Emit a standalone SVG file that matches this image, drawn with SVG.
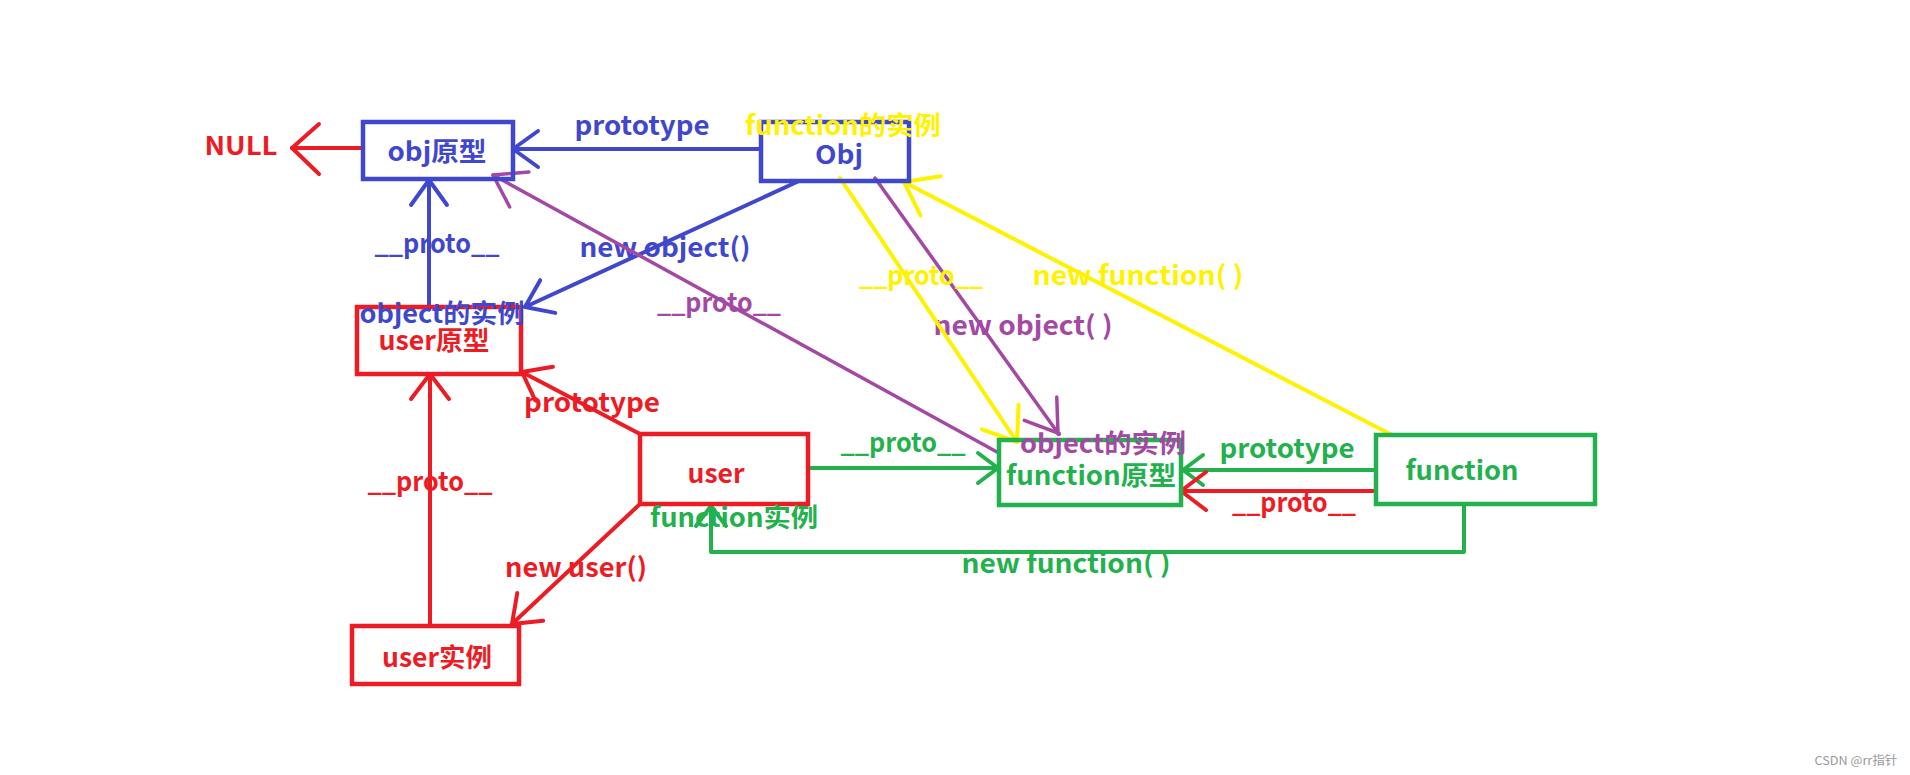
<svg xmlns="http://www.w3.org/2000/svg" width="1910" height="775" viewBox="0 0 1910 775">
<style>
text{font-family:"Noto Sans CJK SC","Noto Sans",sans-serif;font-size:26px;font-weight:bold;text-anchor:middle}
.box{fill:none;stroke-width:4.5}
.ln{fill:none;stroke-width:4;stroke-linecap:round;stroke-linejoin:round}
.b{stroke:#3f48cc}.r{stroke:#ed1c24}.g{stroke:#22b14c}.y{stroke:#fff200}.p{stroke:#a349a4;stroke-width:3.5}
.tb{fill:#3f48cc}.tr{fill:#ed1c24}.tg{fill:#22b14c}.ty{fill:#fff200}.tp{fill:#a349a4}
</style>
<defs>
<marker id="ab" markerUnits="userSpaceOnUse" markerWidth="40" markerHeight="40" refX="0" refY="0" orient="auto" overflow="visible"><path d="M-25,-18 L0,0 L-25,18" fill="none" stroke="#3f48cc" stroke-width="4" stroke-linecap="round" stroke-linejoin="round"/></marker>
<marker id="ar" markerUnits="userSpaceOnUse" markerWidth="40" markerHeight="40" refX="0" refY="0" orient="auto" overflow="visible"><path d="M-25,-19 L0,0 L-25,19" fill="none" stroke="#ed1c24" stroke-width="4" stroke-linecap="round" stroke-linejoin="round"/></marker>
<marker id="arL" markerUnits="userSpaceOnUse" markerWidth="40" markerHeight="40" refX="0" refY="0" orient="auto" overflow="visible"><path d="M-27,-26 L0,0 L-27,24" fill="none" stroke="#ed1c24" stroke-width="4" stroke-linecap="round" stroke-linejoin="round"/></marker>
<marker id="ag" markerUnits="userSpaceOnUse" markerWidth="40" markerHeight="40" refX="0" refY="0" orient="auto" overflow="visible"><path d="M-20,-15 L0,0 L-20,15" fill="none" stroke="#22b14c" stroke-width="4" stroke-linecap="round" stroke-linejoin="round"/></marker>
<marker id="ay" markerUnits="userSpaceOnUse" markerWidth="40" markerHeight="40" refX="0" refY="0" orient="auto" overflow="visible"><path d="M-30,-22 L0,0 L-30,22" fill="none" stroke="#fff200" stroke-width="4" stroke-linecap="round" stroke-linejoin="round"/></marker>
<marker id="ap" markerUnits="userSpaceOnUse" markerWidth="40" markerHeight="40" refX="0" refY="0" orient="auto" overflow="visible"><path d="M-30,-20 L0,0 L-30,20" fill="none" stroke="#a349a4" stroke-width="3.5" stroke-linecap="round" stroke-linejoin="round"/></marker>
</defs>
<rect width="1910" height="775" fill="#ffffff"/>

<g id="connectors">
<path class="ln r" d="M363,148 L292,148" marker-end="url(#arL)"/>
<text class="tr" x="241" y="155" textLength="73" lengthAdjust="spacingAndGlyphs">NULL</text>

<path class="ln b" d="M761,149 L513,149" marker-end="url(#ab)"/>
<text class="tb" x="642" y="135" textLength="135" lengthAdjust="spacingAndGlyphs">prototype</text>

<path class="ln b" d="M429,307 L429,180" marker-end="url(#ab)"/>
<text class="tb" x="437" y="253" textLength="125" lengthAdjust="spacingAndGlyphs">__proto__</text>

<path class="ln b" d="M799,181 L525,307" marker-end="url(#ab)"/>
<text class="tb" x="665" y="257" textLength="171" lengthAdjust="spacingAndGlyphs">new object()</text>

<path class="ln p" d="M997,452 L493,175" marker-end="url(#ap)"/>
<text class="tp" x="719" y="312" textLength="124" lengthAdjust="spacingAndGlyphs">__proto__</text>

<path class="ln p" d="M875,178 L1058,433" marker-end="url(#ap)"/>
<text class="tp" x="1023" y="335" textLength="179" lengthAdjust="spacingAndGlyphs">new object( )</text>

<path class="ln y" d="M840,178 L1017,442" marker-end="url(#ay)"/>
<text class="ty" x="921" y="285" textLength="124" lengthAdjust="spacingAndGlyphs">__proto__</text>

<path class="ln y" d="M1392,435 L904,182" marker-end="url(#ay)"/>
<text class="ty" x="1138" y="285" textLength="211" lengthAdjust="spacingAndGlyphs">new function( )</text>

<path class="ln r" d="M430,626 L430,374" marker-end="url(#ar)"/>
<text class="tr" x="430" y="491" textLength="125" lengthAdjust="spacingAndGlyphs">__proto__</text>

<path class="ln r" d="M640,434 L522,372" marker-end="url(#ar)"/>
<text class="tr" x="592" y="412" textLength="136" lengthAdjust="spacingAndGlyphs">prototype</text>

<path class="ln r" d="M640,504 L512,624" marker-end="url(#ar)"/>
<text class="tr" x="576" y="577" textLength="142" lengthAdjust="spacingAndGlyphs">new user()</text>

<path class="ln g" d="M808,468 L998,468" marker-end="url(#ag)"/>
<text class="tg" x="903" y="452" textLength="125" lengthAdjust="spacingAndGlyphs">__proto__</text>

<path class="ln g" d="M1376,470 L1183,470" marker-end="url(#ag)"/>
<text class="tg" x="1287" y="458" textLength="135" lengthAdjust="spacingAndGlyphs">prototype</text>

<path class="ln r" d="M1376,491 L1181,491" marker-end="url(#ar)"/>
<text class="tr" x="1294" y="512" textLength="124" lengthAdjust="spacingAndGlyphs">__proto__</text>

<path class="ln g" d="M1464,505 L1464,552 L711,552 L711,506" marker-end="url(#ag)"/>
<text class="tg" x="1066" y="573" textLength="209" lengthAdjust="spacingAndGlyphs">new function( )</text>
</g>

<g id="node-obj-prototype">
<rect class="box b" x="363" y="122" width="150" height="57"/>
<text class="tb" x="437" y="161" textLength="99" lengthAdjust="spacingAndGlyphs">obj原型</text>
</g>

<g id="node-Obj">
<rect class="box b" x="761" y="122" width="148" height="59"/>
<text class="tb" x="839" y="164" textLength="48" lengthAdjust="spacingAndGlyphs">Obj</text>
<text class="ty" x="843" y="135" textLength="196" lengthAdjust="spacingAndGlyphs">function的实例</text>
</g>

<g id="node-user-prototype">
<rect class="box r" x="357" y="307" width="164" height="67"/>
<text class="tb" x="442" y="323" textLength="165" lengthAdjust="spacingAndGlyphs">object的实例</text>
<text class="tr" x="434" y="350" textLength="111" lengthAdjust="spacingAndGlyphs">user原型</text>
</g>

<g id="node-user">
<rect class="box r" x="640" y="434" width="168" height="70"/>
<text class="tr" x="716" y="483" textLength="57" lengthAdjust="spacingAndGlyphs">user</text>
<text class="tg" x="734" y="527" textLength="168" lengthAdjust="spacingAndGlyphs">function实例</text>
</g>

<g id="node-user-instance">
<rect class="box r" x="352" y="626" width="167" height="58"/>
<text class="tr" x="437" y="667" textLength="110" lengthAdjust="spacingAndGlyphs">user实例</text>
</g>

<g id="node-function-prototype">
<rect class="box g" x="999" y="440" width="182" height="65"/>
<text class="tp" x="1103" y="453" textLength="166" lengthAdjust="spacingAndGlyphs">object的实例</text>
<text class="tg" x="1091" y="485" textLength="170" lengthAdjust="spacingAndGlyphs">function原型</text>
</g>

<g id="node-function">
<rect class="box g" x="1376" y="435" width="219" height="69"/>
<text class="tg" x="1462" y="480" textLength="113" lengthAdjust="spacingAndGlyphs">function</text>
</g>

<text x="1856" y="765" style="font-size:12px;font-weight:normal;fill:#999999" textLength="83" lengthAdjust="spacingAndGlyphs">CSDN @rr指针</text>
</svg>
